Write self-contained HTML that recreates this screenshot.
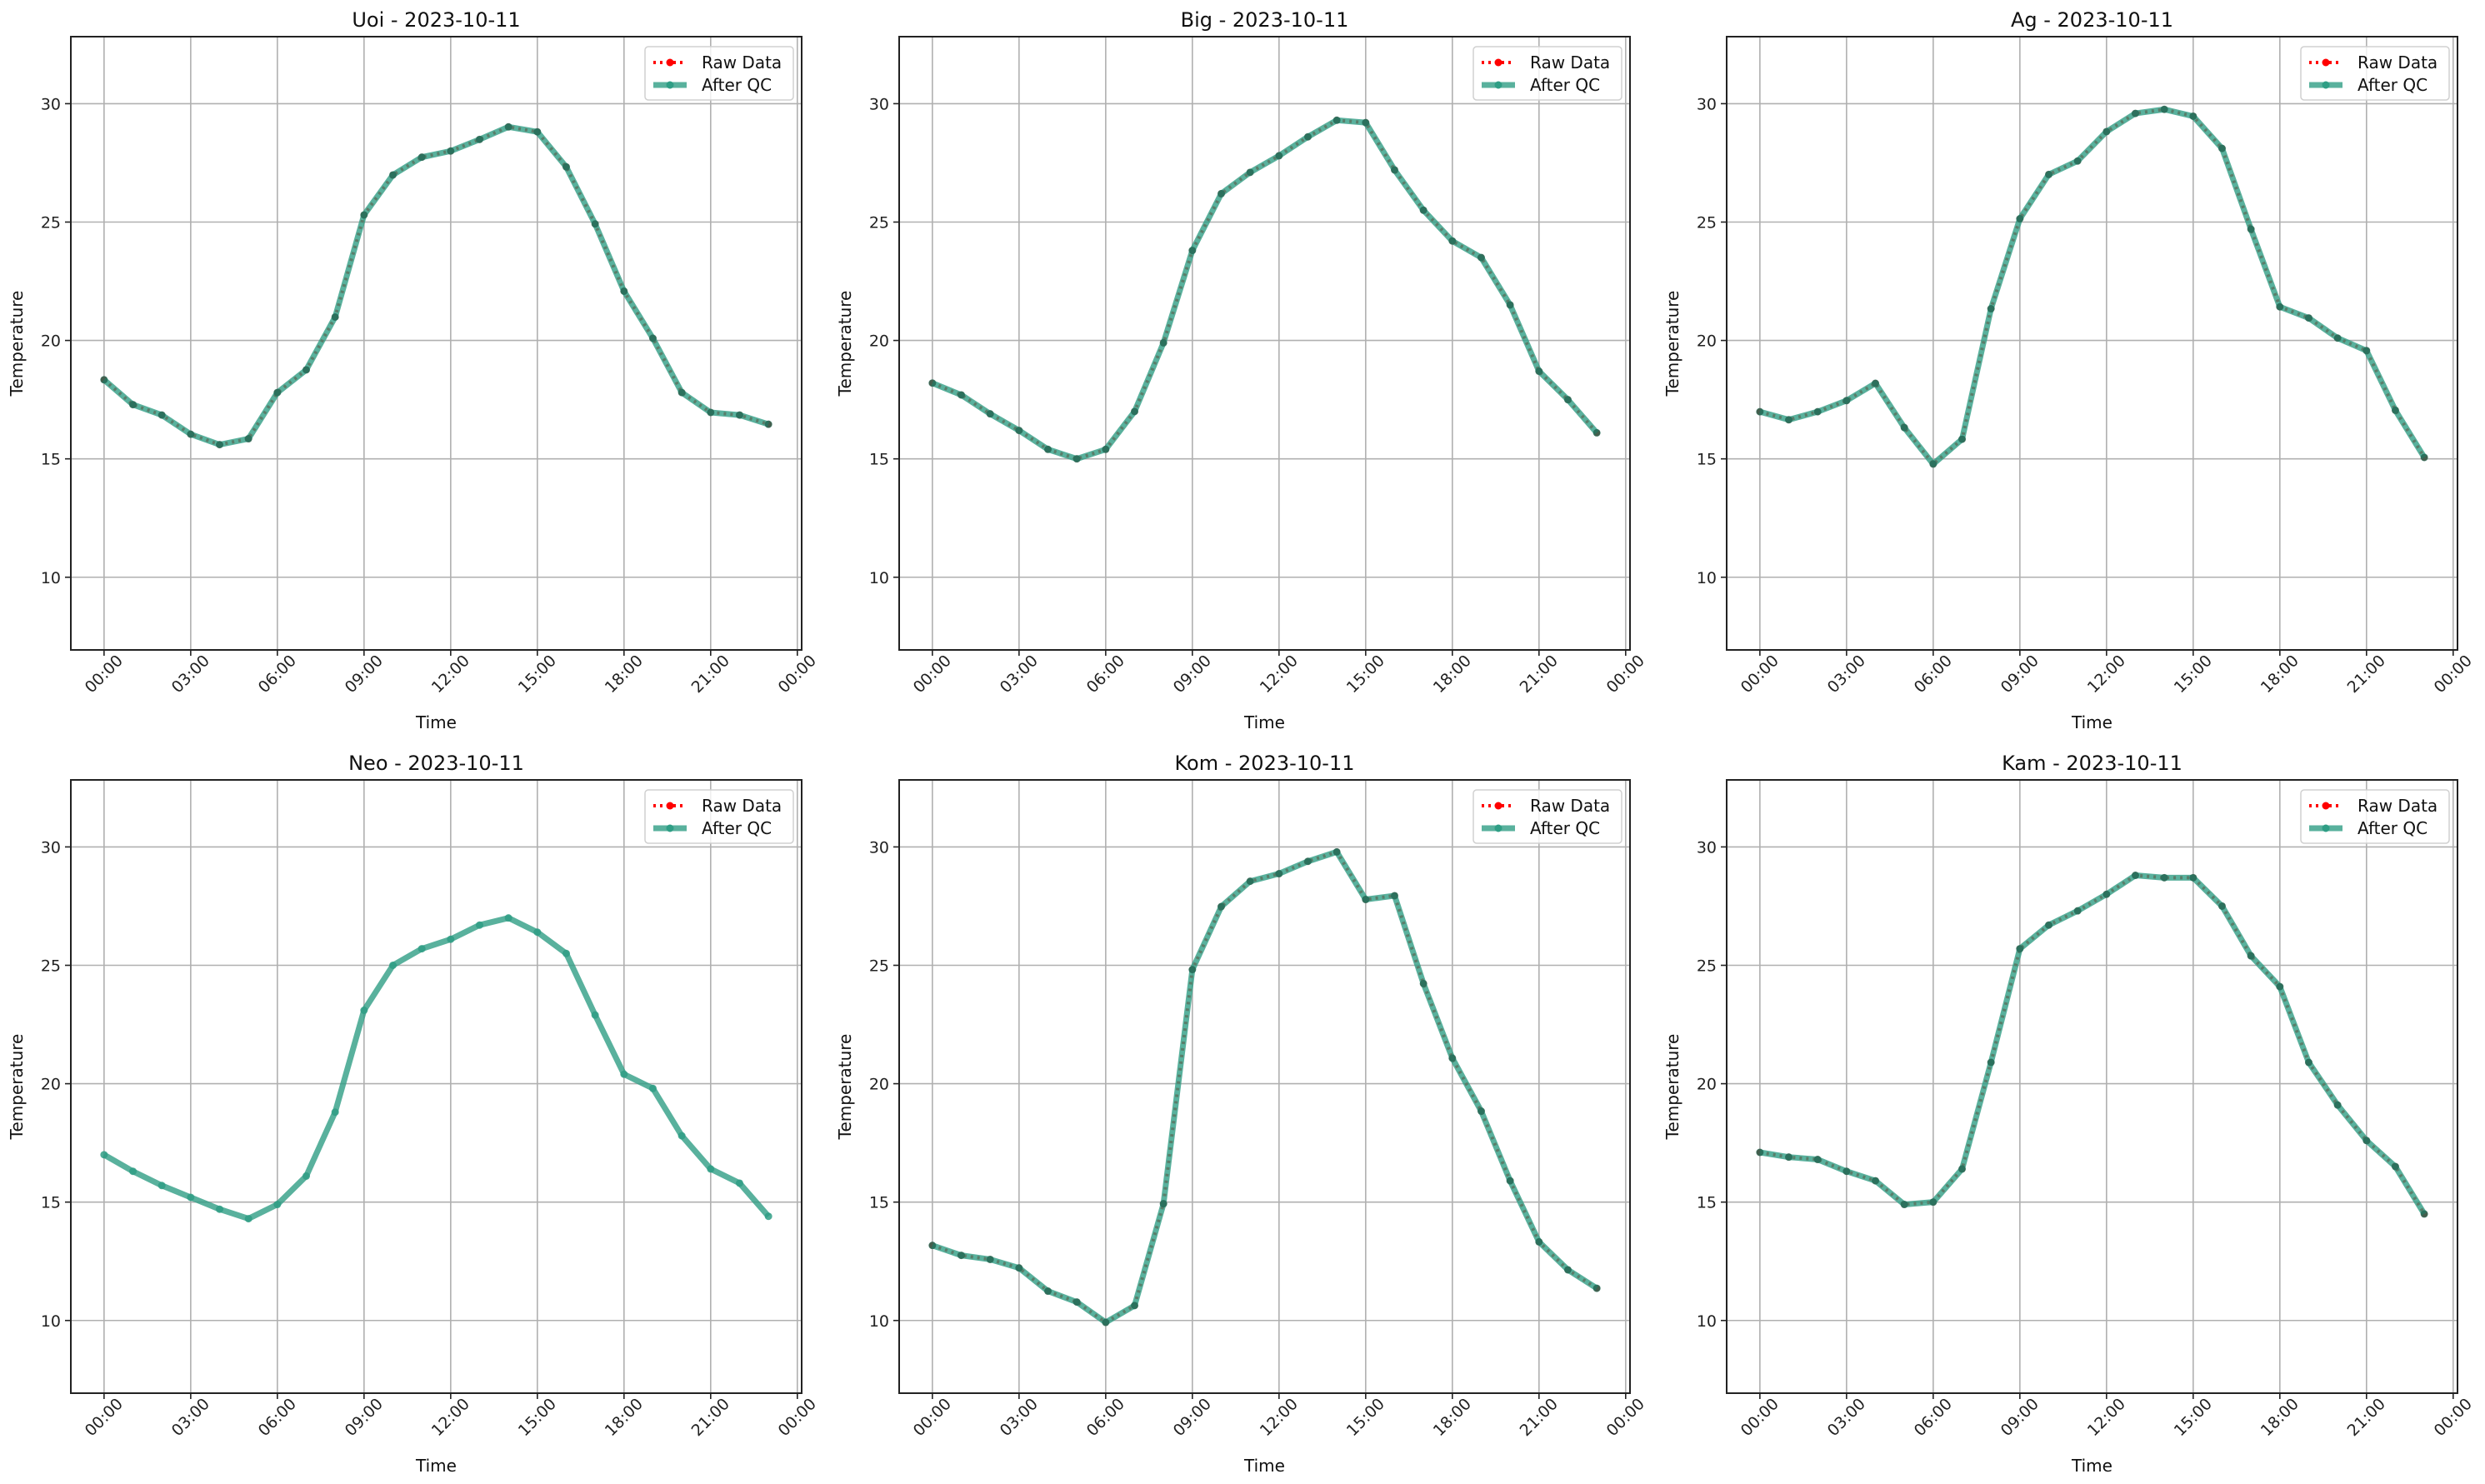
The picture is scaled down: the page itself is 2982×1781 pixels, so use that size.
<!DOCTYPE html>
<html><head><meta charset="utf-8"><style>
html,body{margin:0;padding:0;background:#fff}
svg{display:block;font-family:"DejaVu Sans","Liberation Sans",sans-serif}
</style></head><body>
<svg id="fig" width="2982" height="1781" viewBox="0 0 2982 1781" xmlns="http://www.w3.org/2000/svg"></svg>
<script>
const stations = ["Uoi","Big","Ag","Neo","Kom","Kam"];
const dateLabel = "2023-10-11";
const hours = [0,1,2,3,4,5,6,7,8,9,10,11,12,13,14,15,16,17,18,19,20,21,22,23];
const xTickHours = [0,3,6,9,12,15,18,21,24];
const xTickLabels = ["00:00","03:00","06:00","09:00","12:00","15:00","18:00","21:00","00:00"];
const yTicks = [10,15,20,25,30];
const uoiValues = [18.34,17.29,16.85,16.04,15.6,15.85,17.8,18.76,20.99,25.3,26.99,27.74,28.0,28.49,29.02,28.81,27.33,24.92,22.08,20.09,17.8,16.96,16.85,16.46];
const bigValues = [18.2,17.7,16.9,16.2,15.4,15.0,15.4,17.0,19.9,23.8,26.2,27.1,27.8,28.6,29.3,29.2,27.2,25.5,24.2,23.5,21.5,18.7,17.5,16.1];
const agValues = [16.99,16.65,16.99,17.46,18.19,16.32,14.78,15.83,21.34,25.14,27.01,27.58,28.82,29.59,29.76,29.47,28.11,24.7,21.42,20.95,20.1,19.57,17.05,15.06];
const neoValues = [17.0,16.3,15.7,15.2,14.7,14.3,14.9,16.1,18.8,23.1,25.0,25.7,26.1,26.7,27.0,26.4,25.5,22.9,20.4,19.8,17.8,16.4,15.8,14.4];
const komValues = [13.17,12.75,12.58,12.22,11.24,10.78,9.92,10.63,14.93,24.82,27.48,28.55,28.87,29.39,29.79,27.78,27.94,24.23,21.08,18.84,15.9,13.32,12.14,11.36];
const kamValues = [17.1,16.9,16.8,16.3,15.9,14.9,15.0,16.4,20.9,25.7,26.7,27.3,28.0,28.8,28.7,28.7,27.5,25.4,24.1,20.9,19.1,17.6,16.5,14.5];
const rawShown = [true,true,true,false,true,true];

const seriesList = [uoiValues,bigValues,agValues,neoValues,komValues,kamValues];
const NS="http://www.w3.org/2000/svg";
const fig=document.getElementById('fig');
function mk(tag,attrs,parent){const e=document.createElementNS(NS,tag);for(const k in attrs)e.setAttribute(k,attrs[k]);(parent||fig).appendChild(e);return e;}
const colL=[85,1079,2072], rowT=[44,936], W=877, H=736;
const xMin=-1.15,xMax=24.15,yMin=6.93,yMax=32.83;
const qcColor='#2f9e85';
seriesList.forEach((vals,i)=>{
  const L=colL[i%3], T=rowT[Math.floor(i/3)];
  const sx=h=>L+(h-xMin)/(xMax-xMin)*W;
  const sy=v=>T+(yMax-v)/(yMax-yMin)*H;
  const g=mk('g',{});
  
  
  xTickHours.forEach((h,k)=>{
    const x=sx(h);
    const gl=mk('line',{x1:x,x2:x,y1:T,y2:T+H,stroke:'#b0b0b0','stroke-width':1.6},g);
    
    
    mk('line',{x1:x,x2:x,y1:T+H,y2:T+H+7,stroke:'#222','stroke-width':1.6},g);
    const t=mk('text',{x:x,y:T+H+35,'font-size':19,'text-anchor':'middle',fill:'#222',transform:`rotate(-45 ${x} ${T+H+29})`},g);
    t.textContent=xTickLabels[k];
    
    
  });
  yTicks.forEach(v=>{
    const y=sy(v);
    const gl=mk('line',{x1:L,x2:L+W,y1:y,y2:y,stroke:'#b0b0b0','stroke-width':1.6},g);
    
    
    mk('line',{x1:L-7,x2:L,y1:y,y2:y,stroke:'#222','stroke-width':1.6},g);
    const t=mk('text',{x:L-12,y:y+7,'font-size':19,'text-anchor':'end',fill:'#222'},g);
    t.textContent=v;
    
    
  });
  const pts=hours.map((h,k)=>sx(h)+','+sy(vals[k])).join(' ');
  if(rawShown[i]){
    const raw=mk('polyline',{points:pts,fill:'none',stroke:'#ff0000','stroke-width':4,'stroke-dasharray':'3 5'},g);
    
    
    hours.forEach((h,k)=>{const c=mk('circle',{cx:sx(h),cy:sy(vals[k]),r:4,fill:'#ff0000'},g);
      
      });
  }
  const qc=mk('polyline',{points:pts,fill:'none',stroke:qcColor,'stroke-opacity':0.8,'stroke-width':7,'stroke-linejoin':'round'},g);
  
  
  hours.forEach((h,k)=>{const c=mk('circle',{cx:sx(h),cy:sy(vals[k]),r:4.5,fill:rawShown[i]?'#236e5a':qcColor,'fill-opacity':0.85},g);
    
    });
  const fr=mk('rect',{x:L,y:T,width:W,height:H,fill:'none',stroke:'#222','stroke-width':2},g);
  
  
  const ti=mk('text',{x:L+W/2,y:T-12,'font-size':24,'text-anchor':'middle',fill:'#111'},g);
  ti.textContent=stations[i]+' - '+dateLabel;
  
  
  const xl=mk('text',{x:L+W/2,y:T+H+94,'font-size':20,'text-anchor':'middle',fill:'#111'},g);
  xl.textContent='Time';
  
  
  const yx=L-58, yy=T+H/2;
  const yl=mk('text',{x:yx,y:yy,'font-size':20,'text-anchor':'middle',fill:'#111',transform:`rotate(-90 ${yx} ${yy})`},g);
  yl.textContent='Temperature';
  
  
  const lg=mk('g',{},g);
  
  
  const lx=L+W-188, ly=T+12;
  mk('rect',{x:lx,y:ly,width:178,height:64,rx:4,fill:'#fff','fill-opacity':0.8,stroke:'#d0d0d0','stroke-width':1.5},lg);
  mk('line',{x1:lx+10,x2:lx+50,y1:ly+19,y2:ly+19,stroke:'#ff0000','stroke-width':4,'stroke-dasharray':'3 5'},lg);
  mk('circle',{cx:lx+30,cy:ly+19,r:4.5,fill:'#ff0000'},lg);
  const t1=mk('text',{x:lx+68,y:ly+26,'font-size':20,fill:'#111'},lg);t1.textContent='Raw Data';
  
  
  mk('line',{x1:lx+10,x2:lx+50,y1:ly+46,y2:ly+46,stroke:qcColor,'stroke-opacity':0.8,'stroke-width':7},lg);
  mk('circle',{cx:lx+30,cy:ly+46,r:4.5,fill:qcColor},lg);
  const t2=mk('text',{x:lx+68,y:ly+53,'font-size':20,fill:'#111'},lg);t2.textContent='After QC';
  
  
});
</script>
</body></html>
